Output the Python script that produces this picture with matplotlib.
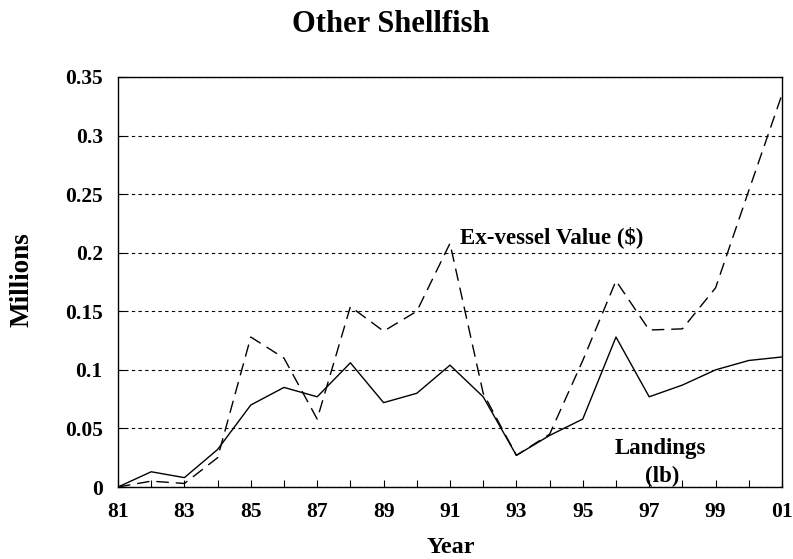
import matplotlib
matplotlib.use("Agg")
import matplotlib.pyplot as plt
import numpy as np

# years 1981..2001, plotted as 81..101, labelled 81..01
years = np.arange(81, 102)
tick_years = np.arange(81, 102, 2)
tick_labels = ["81", "83", "85", "87", "89", "91", "93", "95", "97", "99", "01"]

# millions
landings = [0.0, 0.013, 0.008, 0.032, 0.070, 0.085, 0.077, 0.106, 0.072, 0.080, 0.104,
            0.077, 0.027, 0.044, 0.058, 0.128, 0.077, 0.087, 0.100, 0.108, 0.111]
value = [0.0, 0.005, 0.003, 0.025, 0.128, 0.110, 0.058, 0.154, 0.133, 0.150, 0.208,
         0.080, 0.027, 0.045, 0.108, 0.176, 0.134, 0.135, 0.170, 0.253, 0.335]

plt.rcParams['font.family'] = ['Liberation Serif', 'DejaVu Serif']
plt.rcParams['font.weight'] = 'bold'

fig = plt.figure(figsize=(7.93, 5.59), dpi=100)
ax = fig.add_axes([0.1488, 0.1288, 0.8373, 0.7335])

ax.plot(years, landings, color="black", lw=1.0)
ax.plot(years, value, color="black", lw=1.0, ls=(0, (9, 5)))

ax.set_xlim(81, 101)
ax.set_ylim(0, 0.35)
ax.set_xticks(years, minor=True)
ax.set_xticks(tick_years)
ax.set_xticklabels(tick_labels)
yt = np.arange(0, 0.351, 0.05)
ax.set_yticks(yt)
ax.set_yticklabels(["0", "0.05", "0.1", "0.15", "0.2", "0.25", "0.3", "0.35"])
ax.tick_params(axis="both", direction="in", labelsize=15.5, length=5, width=0.8, pad=11)
ax.tick_params(axis="x", which="minor", direction="in", length=5, width=0.8)
for lab in ax.get_xticklabels() + ax.get_yticklabels():
    lab.set_fontweight("bold")

ax.yaxis.grid(True, color="black", ls=(0, (3, 3)), lw=0.8)
for s in ax.spines.values():
    s.set_linewidth(1.0)

ax.text(94.05, 0.213, "Ex-vessel Value ($)", ha="center", va="center", fontsize=16.5, fontweight="bold")
ax.text(97.35, 0.033, "Landings", ha="center", va="center", fontsize=16.5, fontweight="bold")
ax.text(97.4, 0.0094, "(lb)", ha="center", va="center", fontsize=16.5, fontweight="bold")

fig.text(0.493, 0.957, "Other Shellfish", ha="center", va="center", fontsize=22, fontweight="bold")
fig.text(0.028, 0.499, "Millions", ha="center", va="center", rotation=90, fontsize=19.5, fontweight="bold")
fig.text(0.569, 0.020, "Year", ha="center", va="center", fontsize=17.5, fontweight="bold")

fig.savefig("out.png", dpi=100)
